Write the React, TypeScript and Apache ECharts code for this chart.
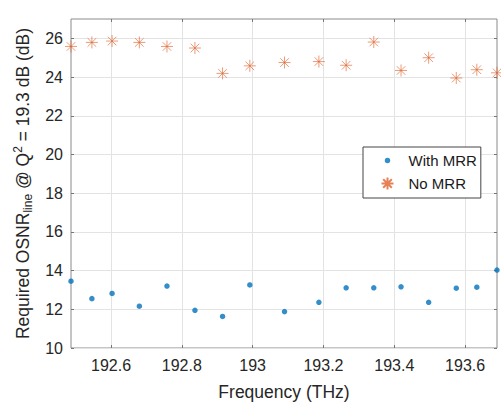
import React, { useEffect, useRef } from 'react';
import * as echarts from 'echarts';

const frequencies = [192.487, 192.546, 192.603, 192.68, 192.758, 192.837, 192.915, 192.992, 193.09, 193.187, 193.264, 193.342, 193.419, 193.497, 193.575, 193.633, 193.69];
const withMRR = [13.45, 12.55, 12.82, 12.16, 13.2, 11.95, 11.63, 13.26, 11.88, 12.36, 13.11, 13.11, 13.16, 12.36, 13.09, 13.14, 14.03];
const noMRR = [25.58, 25.79, 25.86, 25.79, 25.58, 25.5, 24.19, 24.58, 24.75, 24.8, 24.61, 25.81, 24.34, 25.0, 23.95, 24.38, 24.22];
const xTicks = [192.6, 192.8, 193, 193.2, 193.4, 193.6];
const yTicks = [10, 12, 14, 16, 18, 20, 22, 24, 26];
const seriesNames = ['With MRR', 'No MRR'];

const FONT = 'Liberation Sans, Arial, Helvetica, sans-serif';
const TXT = '#262626';
const STAR = 'path://M0,-6 L0,6 M-6,0 L6,0 M-4.3,-4.3 L4.3,4.3 M-4.3,4.3 L4.3,-4.3';
const STAR_ICON = 'path://M-16,-6 M16,6 M0,-6 L0,6 M-6,0 L6,0 M-4.3,-4.3 L4.3,4.3 M-4.3,4.3 L4.3,-4.3';
const DOT_ICON = 'path://M-16,-6 M16,6 M-2.7,0 A2.7,2.7 0 1 1 2.7,0 A2.7,2.7 0 1 1 -2.7,0 Z';

export default function App() {
  const ref = useRef<HTMLDivElement>(null);
  useEffect(() => {
    document.body.style.margin = '0';
    if (!ref.current) return;
    const chart = echarts.init(ref.current, undefined, { renderer: 'svg' });
    const xMin = 192.487;
    const xMax = 193.69;
    const fmt = (v: number) => String(parseFloat(Number(v).toFixed(2)));
    chart.setOption({
      animation: false,
      backgroundColor: '#fff',
      textStyle: { fontFamily: FONT },
      grid: {
        left: 71, right: 4, top: 19, bottom: 55,
        show: true, borderColor: '#8a8a8a', borderWidth: 1, backgroundColor: 'transparent',
      },
      legend: {
        orient: 'vertical',
        left: 363, top: 147,
        padding: [6, 4, 6, 6],
        itemWidth: 32, itemHeight: 12, itemGap: 7,
        backgroundColor: '#fff',
        borderColor: '#444', borderWidth: 1, borderRadius: 0,
        textStyle: { fontFamily: FONT, fontSize: 15, color: '#1a1a1a' },
        data: [
          { name: seriesNames[0], icon: DOT_ICON },
          { name: seriesNames[1], icon: STAR_ICON },
        ],
      },
      xAxis: [
        {
          type: 'value', min: xMin, max: xMax, position: 'bottom',
          name: 'Frequency (THz)', nameLocation: 'middle', nameGap: 35,
          nameTextStyle: { fontFamily: FONT, fontSize: 17.5, color: TXT },
          axisLine: { show: false },
          axisTick: { show: true, inside: true, length: 3, customValues: xTicks, lineStyle: { color: '#777' } },
          axisLabel: { show: true, customValues: xTicks, formatter: fmt, fontSize: 16, color: TXT, fontFamily: FONT, margin: 9 },
          splitLine: { show: true, lineStyle: { color: '#e3e3e3', width: 1 } },
        },
        {
          type: 'value', min: xMin, max: xMax, position: 'top',
          axisLine: { show: false },
          axisTick: { show: true, inside: true, length: 3, customValues: xTicks, lineStyle: { color: '#777' } },
          axisLabel: { show: false },
          splitLine: { show: false },
        },
      ],
      yAxis: [
        {
          type: 'value', min: 10, max: 27, position: 'left',
          name: '{t|Required OSNR}{s|line}{t| @ Q}{p|2}{t| = 19.3 dB (dB)}',
          nameLocation: 'middle', nameGap: 29,
          nameTextStyle: {
            fontFamily: FONT, fontSize: 17.5, color: TXT,
            rich: {
              t: { fontFamily: FONT, fontSize: 17.5, color: TXT, lineHeight: 22 },
              s: { fontFamily: FONT, fontSize: 12, color: TXT, verticalAlign: 'bottom' },
              p: { fontFamily: FONT, fontSize: 12, color: TXT, verticalAlign: 'top' },
            },
          },
          axisLine: { show: false },
          axisTick: { show: true, inside: true, length: 3, customValues: yTicks, lineStyle: { color: '#777' } },
          axisLabel: { show: true, customValues: yTicks, fontSize: 16, color: TXT, fontFamily: FONT, margin: 8 },
          splitLine: { show: true, lineStyle: { color: '#e3e3e3', width: 1 } },
        },
        {
          type: 'value', min: 10, max: 27, position: 'right',
          axisLine: { show: false },
          axisTick: { show: true, inside: true, length: 3, customValues: yTicks, lineStyle: { color: '#777' } },
          axisLabel: { show: false },
          splitLine: { show: false },
        },
      ],
      series: [
        {
          name: seriesNames[0], type: 'scatter', xAxisIndex: 0, yAxisIndex: 0,
          symbol: 'circle', symbolSize: 5.5, clip: false,
          itemStyle: { color: '#0072BD' },
          data: frequencies.map((f, i) => [f, withMRR[i]]),
        },
        {
          name: seriesNames[1], type: 'scatter', xAxisIndex: 0, yAxisIndex: 0,
          symbol: STAR, symbolSize: 12, clip: false,
          itemStyle: { color: 'none', borderColor: '#E0622C', borderWidth: 0.8 },
          data: frequencies.map((f, i) => [f, noMRR[i]]),
        },
      ],
    });
    return () => chart.dispose();
  }, []);
  return <div ref={ref} style={{ width: 501, height: 406 }} />;
}
